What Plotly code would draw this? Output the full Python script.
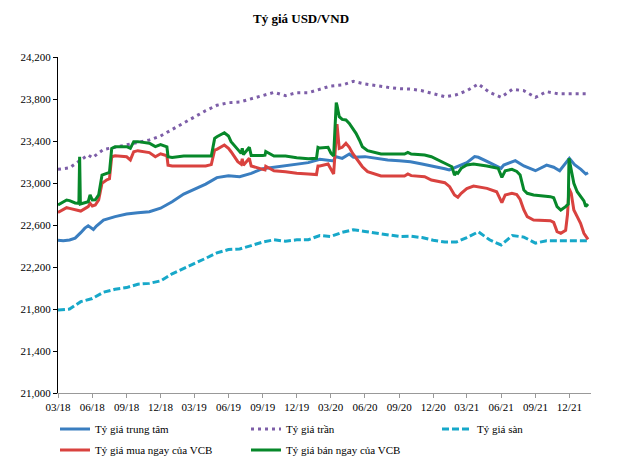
import plotly.graph_objects as go

# ---------------- data ----------------
central_dates = ["2018-03-01","2018-03-15","2018-04-01","2018-04-16","2018-05-01","2018-05-12","2018-05-21",
    "2018-06-04","2018-06-12","2018-07-01","2018-08-01","2018-09-01","2018-10-01","2018-11-01","2018-12-01",
    "2019-01-01","2019-02-01","2019-03-01","2019-04-01","2019-05-01","2019-06-01","2019-07-01","2019-08-01",
    "2019-09-01","2019-10-01","2019-11-01","2019-12-01","2020-01-01","2020-02-01","2020-03-09","2020-03-14",
    "2020-04-01","2020-04-20","2020-05-01","2020-06-01","2020-07-01","2020-08-01","2020-09-01","2020-10-01",
    "2020-11-01","2020-12-01","2021-01-01","2021-01-13","2021-02-01","2021-03-01","2021-03-22","2021-04-01",
    "2021-05-01","2021-06-01","2021-06-08","2021-07-09","2021-08-01","2021-08-20","2021-09-01","2021-10-01",
    "2021-10-20","2021-11-05","2021-11-26","2021-12-01","2021-12-15","2022-01-01","2022-01-14","2022-01-20"]
central_values = [22455,22450,22458,22475,22527,22570,22593,
    22558,22590,22647,22680,22705,22717,22727,22760,
    22822,22895,22940,22990,23051,23070,23060,23092,
    23136,23149,23162,23181,23194,23225,23210,23251,
    23235,23276,23245,23251,23235,23219,23213,23203,
    23181,23162,23136,23124,23155,23194,23251,23245,
    23194,23140,23171,23213,23162,23130,23117,23171,
    23150,23117,23219,23235,23175,23130,23086,23098]

ceiling_dates = ["2018-03-01","2018-04-01","2018-05-01","2018-05-21","2018-06-01","2018-07-01","2018-08-01",
    "2018-09-01","2018-10-01","2018-11-01","2018-12-01","2019-01-01","2019-02-01","2019-03-01","2019-04-01",
    "2019-05-01","2019-06-01","2019-07-01","2019-08-01","2019-09-01","2019-10-01","2019-11-01","2019-12-01",
    "2020-01-01","2020-02-01","2020-03-01","2020-04-01","2020-05-01","2020-06-01","2020-07-01","2020-08-01",
    "2020-09-01","2020-10-01","2020-11-01","2020-12-01","2021-01-01","2021-02-01","2021-03-01","2021-04-01",
    "2021-05-01","2021-06-01","2021-07-01","2021-08-01","2021-09-01","2021-10-01","2021-11-01","2021-12-01",
    "2022-01-01","2022-01-20"]
ceiling_values = [23130,23145,23220,23267,23240,23320,23340,
    23362,23384,23410,23448,23510,23575,23625,23689,
    23740,23765,23771,23800,23832,23863,23832,23860,
    23860,23895,23924,23933,23968,23943,23924,23911,
    23898,23895,23879,23854,23822,23840,23879,23943,
    23863,23816,23892,23879,23816,23870,23850,23850,
    23850,23850]

floor_dates = ["2018-03-01","2018-04-01","2018-05-01","2018-06-01","2018-07-01","2018-08-01","2018-09-01",
    "2018-10-01","2018-11-01","2018-12-01","2019-01-01","2019-02-01","2019-03-01","2019-04-01","2019-05-01",
    "2019-06-01","2019-07-01","2019-08-01","2019-09-01","2019-10-01","2019-11-01","2019-12-01","2020-01-01",
    "2020-02-01","2020-03-01","2020-04-01","2020-05-01","2020-06-01","2020-07-01","2020-08-01","2020-09-01",
    "2020-10-01","2020-11-01","2020-12-01","2021-01-01","2021-02-01","2021-03-01","2021-04-01","2021-05-01",
    "2021-06-01","2021-07-01","2021-08-01","2021-09-01","2021-10-01","2021-11-01","2021-12-01","2022-01-01",
    "2022-01-20"]
floor_values = [21790,21800,21870,21900,21960,21988,22004,
    22036,22044,22068,22135,22190,22232,22283,22334,
    22366,22372,22404,22438,22459,22446,22459,22460,
    22500,22490,22530,22555,22538,22522,22506,22491,
    22494,22480,22455,22438,22438,22480,22535,22459,
    22410,22500,22485,22428,22450,22450,22450,22450,
    22450]

buy_dates = ["2018-03-01","2018-03-24","2018-04-01","2018-04-16","2018-05-01","2018-05-21","2018-05-26",
    "2018-06-01","2018-06-09","2018-06-18","2018-06-27","2018-07-10","2018-07-17","2018-07-23","2018-08-01",
    "2018-09-01","2018-09-11","2018-09-20","2018-10-01","2018-11-01","2018-11-17","2018-12-01","2018-12-18",
    "2018-12-21","2019-01-01","2019-02-01","2019-03-01","2019-04-01","2019-04-16","2019-04-25","2019-05-01",
    "2019-05-21","2019-06-01","2019-06-08","2019-06-26","2019-07-05","2019-07-08","2019-07-11","2019-07-27",
    "2019-08-01","2019-09-01","2019-09-07","2019-09-09","2019-10-01","2019-11-01","2019-12-01","2020-01-01",
    "2020-01-23","2020-01-27","2020-02-01","2020-02-23","2020-03-02","2020-03-09","2020-03-18","2020-03-24",
    "2020-04-01","2020-04-11","2020-04-20","2020-04-29","2020-05-12","2020-05-25","2020-06-08","2020-06-26",
    "2020-07-14","2020-09-01","2020-09-15","2020-09-24","2020-10-03","2020-11-08","2020-11-26","2021-01-01",
    "2021-01-14","2021-01-27","2021-02-05","2021-02-14","2021-03-01","2021-03-19","2021-04-24","2021-05-20",
    "2021-05-29","2021-06-03","2021-06-12","2021-06-30","2021-07-13","2021-07-22","2021-08-01","2021-08-10",
    "2021-08-27","2021-10-11","2021-10-20","2021-10-29","2021-11-08","2021-11-21","2021-11-26","2021-11-30",
    "2021-12-06","2021-12-13","2021-12-22","2021-12-31","2022-01-09","2022-01-20"]
buy_values = [22720,22765,22758,22743,22733,22775,22806,
    22781,22790,22838,22997,23030,23040,23250,23260,
    23250,23220,23298,23308,23290,23250,23278,23260,
    23170,23162,23162,23162,23162,23175,23314,23320,
    23362,23330,23298,23203,23180,23230,23170,23235,
    23162,23130,23124,23160,23117,23108,23092,23086,
    23080,23162,23162,23181,23124,23086,23560,23330,
    23340,23378,23340,23282,23219,23155,23108,23086,
    23067,23067,23067,23086,23070,23060,23028,23003,
    22965,22886,22865,22902,22946,22971,22949,22917,
    22838,22813,22886,22902,22890,22844,22743,22679,
    22648,22641,22625,22537,22521,22550,22700,22949,
    22900,22743,22679,22616,22521,22463]

sell_dates = ["2018-03-01","2018-03-24","2018-04-01","2018-04-16","2018-04-26","2018-04-28","2018-04-30",
    "2018-05-21","2018-05-26","2018-06-01","2018-06-09","2018-06-18","2018-06-27","2018-07-10","2018-07-17",
    "2018-07-23","2018-08-01","2018-09-01","2018-09-11","2018-09-20","2018-10-01","2018-11-01","2018-11-17",
    "2018-12-01","2018-12-18","2018-12-21","2019-01-01","2019-02-01","2019-03-01","2019-04-01","2019-04-16",
    "2019-04-25","2019-05-01","2019-05-21","2019-06-01","2019-06-08","2019-06-26","2019-07-05","2019-07-08",
    "2019-07-11","2019-07-27","2019-08-01","2019-09-01","2019-09-07","2019-09-09","2019-10-01","2019-11-01",
    "2019-12-01","2020-01-01","2020-01-23","2020-01-27","2020-02-01","2020-02-23","2020-03-02","2020-03-09",
    "2020-03-16","2020-03-18","2020-03-24","2020-04-01","2020-04-11","2020-04-20","2020-04-29","2020-05-08",
    "2020-05-17","2020-05-25","2020-06-08","2020-06-26","2020-07-14","2020-09-15","2020-09-24","2020-10-03",
    "2020-11-08","2020-11-26","2020-12-14","2021-01-01","2021-01-20","2021-01-27","2021-02-01","2021-02-05",
    "2021-02-14","2021-03-01","2021-03-19","2021-04-24","2021-05-15","2021-05-24","2021-06-03","2021-06-12",
    "2021-06-30","2021-07-13","2021-07-22","2021-08-01","2021-08-10","2021-08-27","2021-10-11","2021-10-20",
    "2021-10-29","2021-11-08","2021-11-21","2021-11-28","2021-11-30","2021-12-04","2021-12-13","2021-12-22",
    "2021-12-31","2022-01-09","2022-01-14","2022-01-20"]
sell_values = [22790,22838,22832,22810,22806,23250,22800,
    22822,22886,22838,22840,22886,23076,23092,23100,
    23330,23346,23346,23330,23394,23394,23378,23346,
    23365,23345,23250,23244,23257,23257,23257,23257,
    23425,23441,23479,23448,23394,23314,23282,23330,
    23270,23340,23263,23263,23265,23300,23257,23257,
    23241,23232,23235,23340,23333,23340,23282,23257,
    23765,23740,23632,23606,23600,23568,23521,23473,
    23410,23346,23308,23289,23276,23276,23292,23276,
    23267,23250,23219,23194,23155,23076,23100,23092,
    23140,23171,23181,23162,23150,23140,23054,23117,
    23130,23110,23076,22933,22902,22886,22870,22860,
    22775,22743,22775,22800,23235,23155,22997,22917,
    22870,22830,22775,22800]

y_ticks = [21000, 21400, 21800, 22200, 22600, 23000, 23400, 23800, 24200]
title_text = "Tỷ giá USD/VND"
names = ["Tỷ giá trung tâm", "Tỷ giá trần", "Tỷ giá sàn",
         "Tỷ giá mua ngay của VCB", "Tỷ giá bán ngay của VCB"]

# ---------------- figure ----------------
# the page has an 8px body margin, so the figure is drawn 8px smaller
W, H = 613, 450
FONT = "Liberation Serif, Times New Roman, serif"
fig = go.Figure()
fig.add_trace(go.Scatter(x=central_dates, y=central_values, name=names[0], mode="lines",
                         line=dict(color="#3a7ec0", width=3), legend="legend"))
fig.add_trace(go.Scatter(x=ceiling_dates, y=ceiling_values, name=names[1], mode="lines",
                         line=dict(color="#7d5ea8", width=3, dash="3px,4px"), legend="legend2"))
fig.add_trace(go.Scatter(x=floor_dates, y=floor_values, name=names[2], mode="lines",
                         line=dict(color="#17a8c9", width=3, dash="7px,3px"), legend="legend3"))
fig.add_trace(go.Scatter(x=buy_dates, y=buy_values, name=names[3], mode="lines",
                         line=dict(color="#d9423f", width=3), legend="legend4"))
fig.add_trace(go.Scatter(x=sell_dates, y=sell_values, name=names[4], mode="lines",
                         line=dict(color="#07882a", width=3), legend="legend5"))


def leg(xpix, ypix):
    return dict(orientation="h", xref="container", yref="container",
                x=xpix / W, xanchor="left", y=1 - ypix / H, yanchor="middle",
                font=dict(family=FONT, size=11, color="#000"), bgcolor="rgba(0,0,0,0)")


fig.update_layout(
    width=W, height=H,
    margin=dict(l=50, r=30, t=49, b=65, autoexpand=False),
    paper_bgcolor="white", plot_bgcolor="white",
    font=dict(family=FONT, size=11, color="#000"),
    title=dict(text="<b>" + title_text + "</b>", x=0.478, xanchor="center",
               xref="container", yref="container", y=1 - 10 / H, yanchor="middle",
               font=dict(family=FONT, size=13, color="#000")),
    showlegend=True,
    legend=leg(47, 421),
    legend2=leg(238, 421),
    legend3=leg(429, 421),
    legend4=leg(47, 442),
    legend5=leg(238, 442),
)
fig.update_yaxes(range=[21000, 24200], tickvals=y_ticks, tickformat=",", showgrid=False,
                 zeroline=False, showline=True, linecolor="#000", linewidth=1,
                 ticks="outside", ticklen=4, tickcolor="#000", tickfont=dict(family=FONT, size=11))
fig.update_xaxes(range=["2018-03-01", "2022-01-28"], tick0="2018-03-01", dtick="M3",
                 tickformat="%m/%y", showgrid=False, zeroline=False, showline=True,
                 linecolor="#999", linewidth=1, ticks="outside", ticklen=4, tickcolor="#999",
                 tickfont=dict(family=FONT, size=11))

fig.write_html("out.html")
